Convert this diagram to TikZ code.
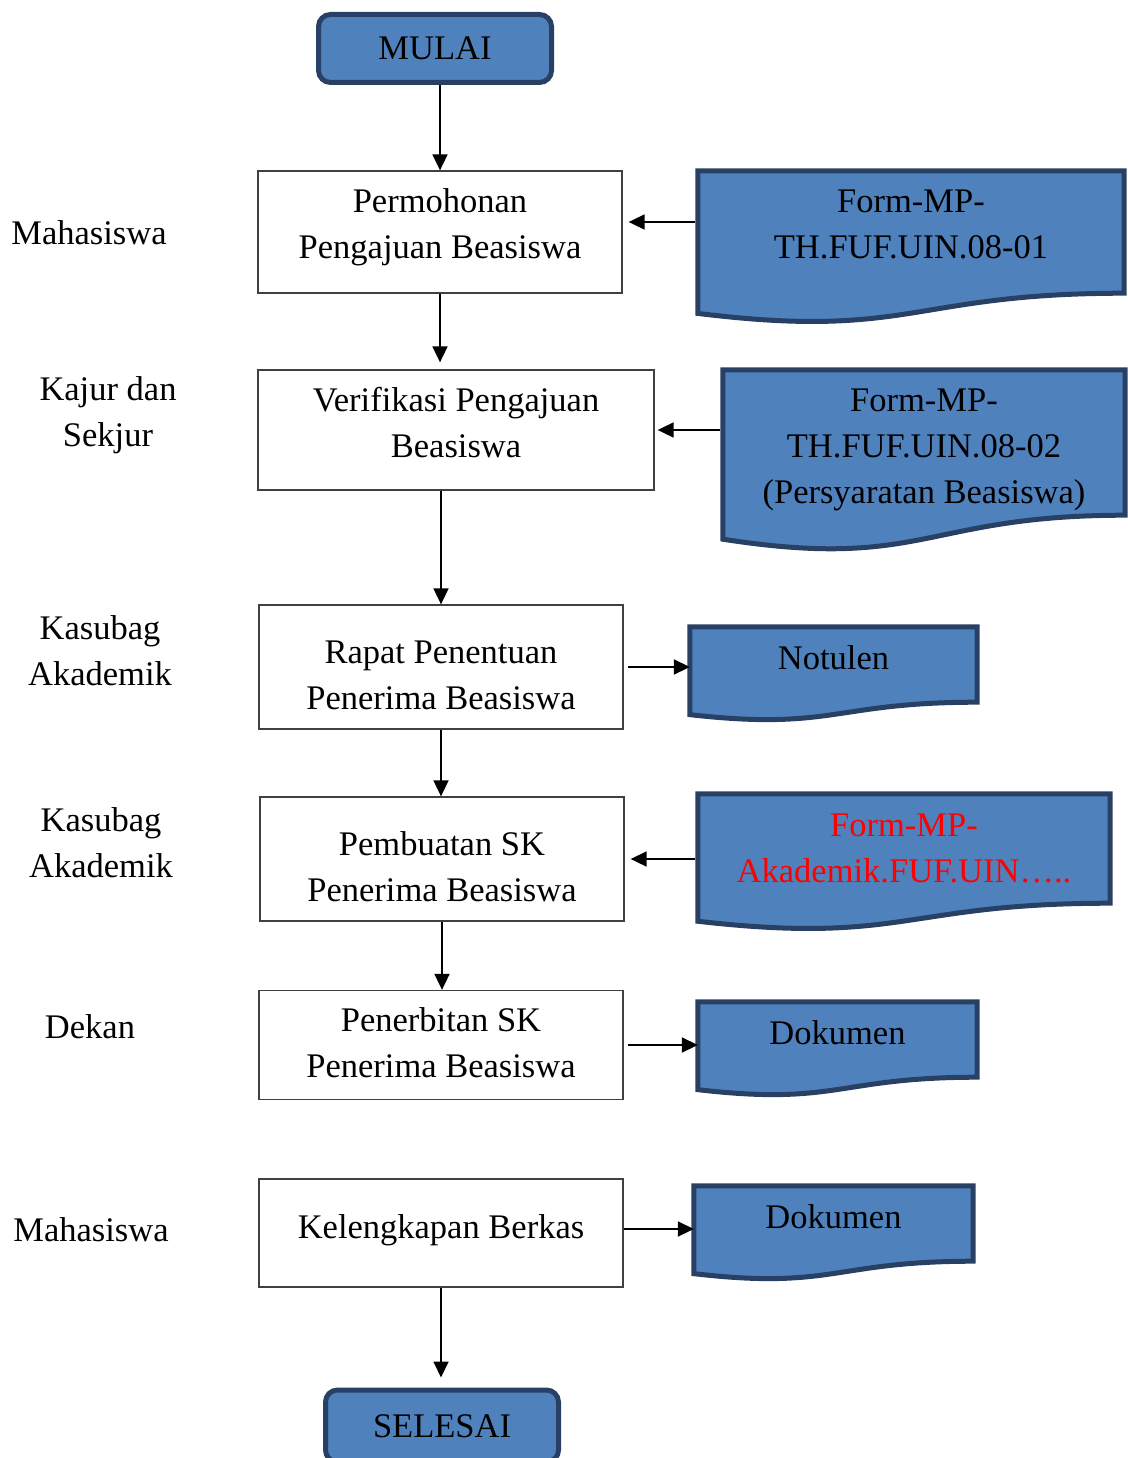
\documentclass[tikz,border=0pt]{standalone}
\usepackage{fontspec}
\setmainfont{Liberation Serif}
\usetikzlibrary{arrows.meta,calc,backgrounds}

\definecolor{boxblue}{RGB}{79,129,189}
\definecolor{boxline}{RGB}{40,64,100}

% move a line of text up or down, keeping its box
\newcommand{\liftby}[2]{\raisebox{#1}[\height][\depth]{#2}}

% document symbol behind a node
\newcommand{\docwave}[1]{%
	\begin{pgfonlayer}{background}
		\path[docline] let \p1=(#1.north west), \p2=(#1.south east),
			\n1={\y1-\y2}, \n2={(\x1+\x2)/2} in
			(\x1,\y1) -- (\x2,\y1) -- (\x2,\y2)
			.. controls (\n2,\y2) and (\n2,{\y2-0.38*\n1})
			.. (\x1,{\y2-0.165*\n1}) -- cycle;
	\end{pgfonlayer}}

\begin{document}
\begin{tikzpicture}[x=1pt,y=-1pt,
	font=\fontsize{34.5}{46}\selectfont,
	term/.style={rectangle,rounded corners=12pt,fill=boxblue,draw=boxline,line width=5pt,minimum width=233pt,inner sep=0pt},
	proc/.style={rectangle,draw=black!75,line width=1.3pt,align=center,minimum width=364pt,inner sep=0pt},
	doc/.style={rectangle,align=center,inner sep=0pt},
	docline/.style={fill=boxblue,draw=boxline,line width=5pt},
	lbl/.style={align=center},
	arr/.style={-{Triangle[length=16pt,width=15pt]},line width=1.8pt}]
	
	\useasboundingbox (0,0) rectangle (1127,1458);
	
	% Start / end
	\node[term,minimum height=68pt] (mulai) at (435,48.5) {MULAI};
	\node[term,minimum height=72pt] (selesai) at (442,1426) {SELESAI};
	
	% Steps
	\node[proc,minimum height=122pt] (b1) at (440,232) {\liftby{5pt}{Permohonan}\\\liftby{5pt}{Pengajuan Beasiswa}};
	\node[proc,minimum width=396pt,minimum height=120pt] (b2) at (456,430) {\liftby{7pt}{Verifikasi Pengajuan}\\\liftby{7pt}{Beasiswa}};
	\node[proc,minimum height=124pt] (b3) at (441,667) {\liftby{-8pt}{Rapat Penentuan}\\\liftby{-8pt}{Penerima Beasiswa}};
	\node[proc,minimum height=124pt] (b4) at (442,859) {\liftby{-8pt}{Pembuatan SK}\\\liftby{-8pt}{Penerima Beasiswa}};
	\node[proc,minimum height=109pt] (b5) at (441,1045) {\liftby{2pt}{Penerbitan SK}\\\liftby{2pt}{Penerima Beasiswa}};
	\node[proc,minimum height=108pt] (b6) at (441,1233) {\liftby{3pt}{Kelengkapan Berkas}};
	
	% Documents
	\node[doc,minimum width=426pt,minimum height=122pt] (d1) at (911,232) {\liftby{8pt}{Form-MP-}\\\liftby{8pt}{TH.FUF.UIN.08-01}};
	\node[doc,minimum width=402pt,minimum height=145pt] (d2) at (924,442.5) {\liftby{-7pt}{Form-MP-}\\\liftby{-7pt}{TH.FUF.UIN.08-02}\\\liftby{-7pt}{(Persyaratan Beasiswa)}};
	\node[doc,minimum width=287pt,minimum height=75pt] (notulen) at (833.5,664.5) {\liftby{7pt}{Notulen}};
	\node[doc,text=red,minimum width=412pt,minimum height=109pt] (d4) at (904,848.5) {Form-MP-\\Akademik.FUF.UIN…..};
	\node[doc,minimum width=279pt,minimum height=75pt] (dok1) at (837.5,1039.5) {\liftby{7pt}{Dokumen}};
	\node[doc,minimum width=279pt,minimum height=75pt] (dok2) at (833.5,1223.5) {\liftby{7pt}{Dokumen}};
	\docwave{d1}
	\docwave{d2}
	\docwave{notulen}
	\docwave{d4}
	\docwave{dok1}
	\docwave{dok2}
	
	% Left labels
	\node[lbl] (l1) at (89,233) {Mahasiswa};
	\node[lbl] (l2) at (108,415) {Kajur dan\\Sekjur};
	\node[lbl] (l3) at (100,651) {Kasubag\\Akademik};
	\node[lbl] (l4) at (101,843) {Kasubag\\Akademik};
	\node[lbl] (l5) at (90,1027) {Dekan};
	\node[lbl] (l6) at (91,1230) {Mahasiswa};
	
	% Arrows
	\draw[arr] (mulai.south -| b1.north) -- (b1.north);
	\draw[arr,shorten >=7pt] (b1.south) -- (b1.south |- b2.north);
	\draw[arr] (b2.south -| b3.north) -- (b3.north);
	\draw[arr] (b3.south) -- (b3.south |- b4.north);
	\draw[arr] (b4.south) -- (b4.south |- b5.north);
	\draw[arr,shorten >=10pt] (b6.south) -- (b6.south |- selesai.north);
	
	\draw[arr,shorten <=2.5pt,shorten >=6pt] ([yshift=10pt]d1.west) -- ([yshift=10pt]b1.east);
	\draw[arr,shorten <=2.5pt,shorten >=3pt] (d2.west |- b2.east) -- (b2.east);
	\draw[arr,shorten <=4pt] (b3.east) -- (b3.east -| notulen.west);
	\draw[arr,shorten <=2.5pt,shorten >=6pt] (d4.west |- b4.east) -- (b4.east);
	\draw[arr,shorten <=4pt] (b5.east) -- (b5.east -| dok1.west);
	\draw[arr] ([yshift=4pt]b6.east) -- ([yshift=4pt]b6.east -| dok2.west);
	
\end{tikzpicture}
\end{document}
